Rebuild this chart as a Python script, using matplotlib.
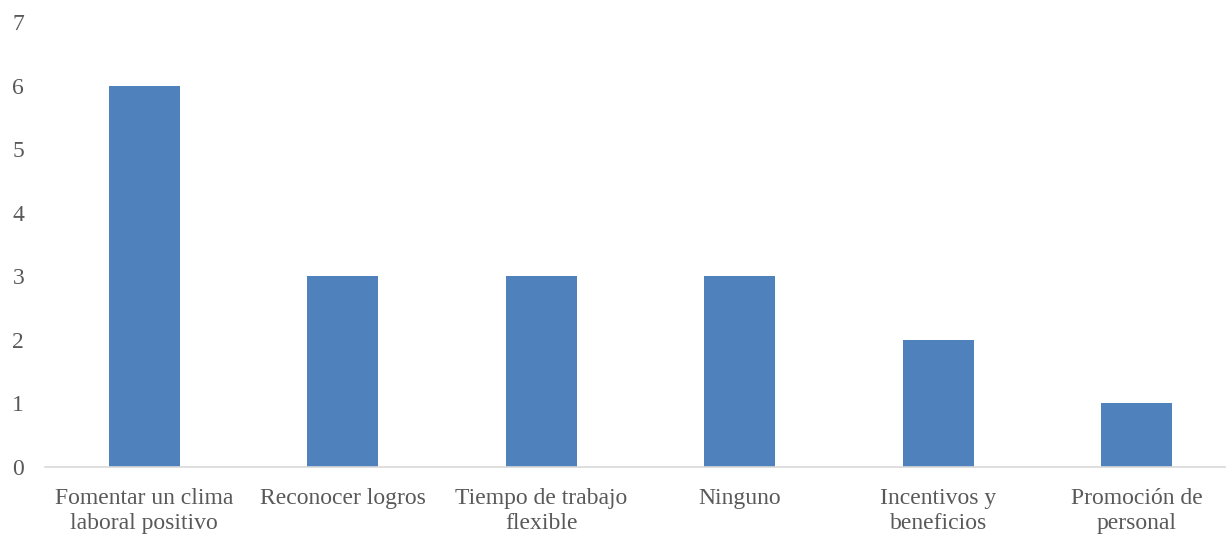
import matplotlib.pyplot as plt

categorias = ["Fomentar un clima\nlaboral positivo", "Reconocer logros",
              "Tiempo de trabajo\nflexible", "Ninguno",
              "Incentivos y\nbeneficios", "Promoción de\npersonal"]
valores = [6, 3, 3, 3, 2, 1]

plt.rcParams['font.family'] = ['Liberation Serif', 'DejaVu Serif']

fig = plt.figure(figsize=(12.26, 5.34), dpi=100)
ax = fig.add_axes([0.0367, 0.1255, 0.9715, 0.8333])

x = range(len(valores))
ax.bar(x, valores, width=0.358, color='#4F81BD')

ax.set_xlim(-0.5, len(valores) - 0.5)
ax.set_ylim(0, 7)
ax.set_yticks(range(0, 8))
ax.set_xticks(list(x))
ax.set_xticklabels(categorias, linespacing=1.28)

for s in ['top', 'right', 'left']:
    ax.spines[s].set_visible(False)
ax.spines['bottom'].set_color('#D9D9D9')
ax.spines['bottom'].set_linewidth(1.2)
ax.tick_params(axis='both', length=0, labelsize=17, colors='#595959')
ax.tick_params(axis='y', pad=15)
ax.tick_params(axis='x', pad=15)

fig.savefig("out.png", dpi=100)
